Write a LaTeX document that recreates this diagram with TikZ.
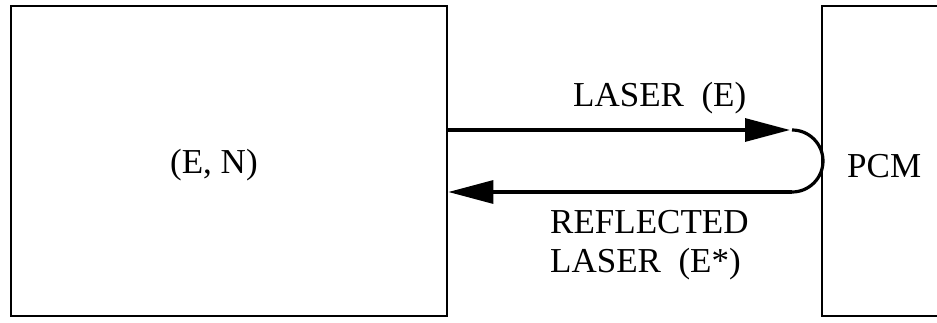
\documentclass[tikz,border=0pt]{standalone}
\usepackage{fontspec}
\setmainfont{Liberation Serif}
\usetikzlibrary{arrows.meta}
\begin{document}
\begin{tikzpicture}[x=1pt,y=1pt,
  boxst/.style={draw,line width=2.7pt,rectangle,inner sep=0pt},
  lbl/.style={inner sep=0pt,anchor=base west,font=\fontsize{35}{39}\selectfont},
  conn/.style={line width=3.2pt},
  tipst/.style={-{Triangle[length=45pt,width=23pt]}}]
\useasboundingbox (0,0) rectangle (937,322);
\clip (0,0) rectangle (937,322);
\node[boxst,minimum width=436pt,minimum height=310pt] (left) at (229,161) {};
\node[boxst,minimum width=140pt,minimum height=310pt] (right) at (892,161) {};
\node[lbl] (en) at (170,149) {(E, N)};
\node[lbl] (pcm) at (847,145) {PCM};
\node[lbl] (laser) at (573,215) {LASER\ \ (E)};
\node[lbl] (refl) at (550,89) {REFLECTED};
\node[lbl] (laser2) at (550,50) {LASER\ \ (E*)};
\coordinate (tipA) at (790,192);
\coordinate (arcA) at (792,192);
\coordinate (arcB) at (792,130);
\draw[conn,tipst] (left.east |- tipA) -- (tipA);
\draw[conn] (arcA) arc[start angle=90,end angle=-90,radius=31pt];
\draw[conn,tipst] (arcB) -- (left.east |- arcB);
\end{tikzpicture}
\end{document}
